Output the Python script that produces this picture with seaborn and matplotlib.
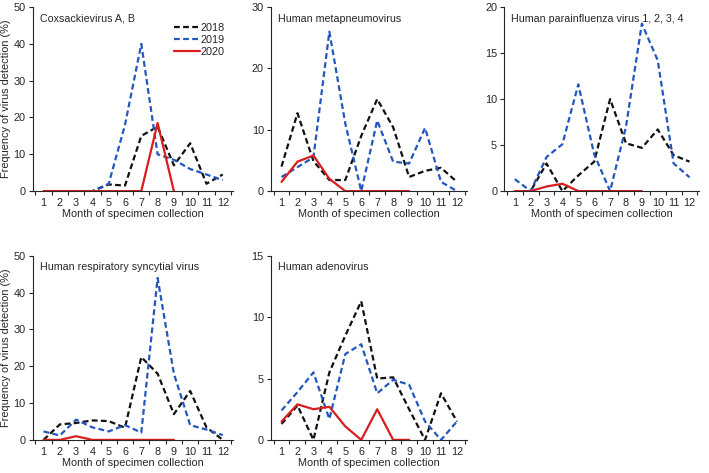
import numpy as np
import pandas as pd
import matplotlib
matplotlib.use("Agg")
import matplotlib.pyplot as plt
import seaborn as sns

months = list(range(1, 13))
months_2020 = list(range(1, 10))

# Coxsackievirus A, B
cox_2018 = [0, 0, 0, 0, 1.8, 1.5, 15, 17.5, 7, 13, 2, 4.5]
cox_2019 = [0, 0, 0, 0, 2, 18, 40, 10, 8.5, 6, 4.5, 3]
cox_2020 = [0, 0, 0, 0, 0, 0, 0, 18.5, 0]

# Human metapneumovirus
hmpv_2018 = [4, 12.7, 4.9, 1.8, 1.8, 9, 15, 10.4, 2.3, 3.3, 3.8, 1.5]
hmpv_2019 = [2.3, 3.9, 5.5, 26, 11, 0, 11.5, 4.8, 4.5, 10.3, 1.5, 0]
hmpv_2020 = [1.5, 4.8, 5.8, 2, 0, 0, 0, 0, 0]

# Human parainfluenza virus 1, 2, 3, 4
hpiv_2018 = [0, 0, 3, 0, 1.7, 3.2, 10, 5.2, 4.7, 6.7, 3.9, 3.2]
hpiv_2019 = [1.3, 0, 3.7, 5.1, 11.6, 4, 0, 7, 18.2, 14.2, 3, 1.5]
hpiv_2020 = [0, 0, 0.5, 0.8, 0, 0, 0, 0, 0]

# Human respiratory syncytial virus
rsv_2018 = [0, 4.2, 4.6, 5.3, 5.1, 3.3, 22.5, 18, 7, 13.3, 3.4, 0]
rsv_2019 = [2.3, 1.2, 5.5, 3.4, 2.3, 4, 2, 44, 18, 4, 2.8, 1.3]
rsv_2020 = [0, 0, 1, 0, 0, 0, 0, 0, 0]

# Human adenovirus
adv_2018 = [1.3, 2.8, 0, 5.5, 8.5, 11.3, 5, 5.1, 2.5, 0, 3.8, 1.5]
adv_2019 = [2.4, 3.9, 5.5, 1.7, 7, 7.8, 3.8, 4.9, 4.5, 1.5, 0, 1.5]
adv_2020 = [1.5, 2.9, 2.5, 2.7, 1.1, 0, 2.5, 0, 0]

panels = [
    ("Coxsackievirus A, B", cox_2018, cox_2019, cox_2020, 50, 10),
    ("Human metapneumovirus", hmpv_2018, hmpv_2019, hmpv_2020, 30, 10),
    ("Human parainfluenza virus 1, 2, 3, 4", hpiv_2018, hpiv_2019, hpiv_2020, 20, 5),
    ("Human respiratory syncytial virus", rsv_2018, rsv_2019, rsv_2020, 50, 10),
    ("Human adenovirus", adv_2018, adv_2019, adv_2020, 15, 5),
]

sns.set_style("ticks")
plt.rcParams['font.family'] = ['Liberation Sans', 'DejaVu Sans']
plt.rcParams['font.size'] = 8

palette = {"2018": "#111111", "2019": "#2456c0", "2020": "#d81e1e"}
dashes = {"2018": (2.6, 1.5), "2019": (2.6, 1.5), "2020": ""}

fig = plt.figure(figsize=(7.09, 4.73), dpi=100)
lefts = [0.046, 0.382, 0.711]
widths = [0.282, 0.276, 0.275]
bottoms = [0.596, 0.070]
h = 0.389

for i, (title, y18, y19, y20, ymax, step) in enumerate(panels):
    r, c = divmod(i, 3)
    ax = fig.add_axes([lefts[c], bottoms[r], widths[c], h])
    df = pd.DataFrame({
        "month": months + months + months_2020,
        "value": y18 + y19 + y20,
        "year": ["2018"] * 12 + ["2019"] * 12 + ["2020"] * 9,
    })
    sns.lineplot(data=df, x="month", y="value", hue="year", style="year",
                 palette=palette, dashes=dashes, linewidth=1.6, ax=ax,
                 legend=(i == 0))
    ax.set_xlim(0.33, 12.6)
    ax.set_ylim(0, ymax)
    ax.set_yticks(np.arange(0, ymax + 1, step))
    ax.set_xticks(months)
    ax.set_xticks(np.arange(0.5, 13, 1), minor=True)
    ax.tick_params(axis='x', which='major', length=0, pad=5, labelsize=7.8)
    ax.tick_params(axis='x', which='minor', length=3, width=0.8)
    ax.tick_params(axis='y', length=3, width=0.8, labelsize=7.8, pad=2)
    for s in ['left', 'bottom']:
        ax.spines[s].set_linewidth(0.8)
    sns.despine(ax=ax)
    ax.set_xlabel("Month of specimen collection", fontsize=7.8, labelpad=1)
    if c == 0:
        ax.set_ylabel("Frequency of virus detection (%)", fontsize=7.9, labelpad=2)
    else:
        ax.set_ylabel("")
    ax.text(0.035, 0.965, title, transform=ax.transAxes, ha='left', va='top', fontsize=7.7)
    if i == 0:
        leg = ax.legend(loc='upper right', bbox_to_anchor=(1.0, 0.955), frameon=False,
                        fontsize=7.8, handlelength=2.4, handletextpad=0.1,
                        labelspacing=0.2, borderpad=0.2)
        leg.set_title(None)

fig.savefig("out.png", dpi=100)
